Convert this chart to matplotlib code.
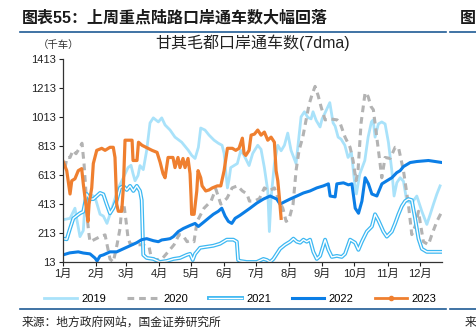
import numpy as np
import matplotlib.pyplot as plt
from matplotlib.lines import Line2D
from matplotlib.legend_handler import HandlerTuple

plt.rcParams['font.family'] = ['Liberation Sans', 'Noto Sans CJK SC', 'DejaVu Sans']

# 甘其毛都口岸通车数(7dma)，横轴为一年中的第几天
month_days = [0, 31, 59, 90, 120, 151, 181, 212, 243, 273, 304, 334]
month_labels = ['1月', '2月', '3月', '4月', '5月', '6月', '7月', '8月', '9月', '10月', '11月', '12月']
y_ticks = [13, 213, 413, 613, 813, 1013, 1213, 1413]

d2019 = [1.9, 6.6, 11.2, 13.1, 15.9, 19, 20.6, 25.3, 30, 34.7, 37.8, 41.2, 44, 47.1, 51.8, 56.5,
         60.9, 63.7, 65.6, 67.5, 70.3, 72.1, 75.2, 78.4, 81.5, 84.6, 89.3, 92.5, 95.6, 100.3, 104.9,
         111.2, 117.4, 120.6, 123.7, 126.8, 129, 133, 136.8, 141.5, 145.5, 149, 150.9, 152.4, 154,
         155.5, 157.1, 163.3, 166.5, 169.6, 174.3, 177.7, 182.4, 185.5, 188.6, 191.8, 193.3, 194.9,
         198, 201.2, 204.3, 207.4, 210.5, 213.6, 218.3, 223, 226.1, 229.3, 232.4, 234.2, 237.1,
         240.8, 242.7, 245.5, 249.9, 253, 254.9, 257.7, 260.5, 264, 267, 270.1, 273.3, 274.8, 278,
         282.7, 285.8, 288.9, 290.5, 292.3, 295.4, 298.6, 301.7, 304.8, 308, 310.1, 312.7, 315.8,
         318.9, 322, 326.7, 331.4, 336.1, 340.8, 343.9, 347, 350.2, 353.2]
v2019 = [307, 314, 384, 300, 188, 230, 412, 482, 460, 342, 330, 279, 342, 412, 524, 594,
         664, 680, 622, 573, 610, 678, 650, 783, 972, 1007, 979, 1007, 958, 923, 874,
         839, 783, 748, 727, 804, 937, 923, 888, 853, 832, 818, 762, 643, 524,
         580, 664, 692, 783, 748, 678, 762, 818, 790, 664, 503, 223, 454,
         692, 818, 780, 818, 902, 783, 692, 1014, 1049, 1010, 1000, 1049, 990,
         944, 1000, 1042, 1112, 972, 950, 874, 860, 818, 734, 770, 552, 482, 620,
         713, 874, 979, 993, 874, 965, 979, 965, 839, 643, 468, 560, 594,
         570, 433, 420, 468, 363, 272, 340, 412, 482, 538]

d2020 = [1.9, 3.7, 6.6, 9.4, 12.2, 15.9, 17.8, 19.7, 21.6, 23, 24.4, 25.3, 30, 34.7, 39.4, 44,
         47.1, 50.6, 53.4, 55.3, 57.2, 59, 60.9, 62.8, 67.5, 74, 80.6, 82.5, 86.2, 92.7, 98.4, 104,
         108.7, 112.4, 116.2, 119, 122.7, 125.6, 132.1, 138.7, 143.1, 147.8, 153.7, 158.4, 163.3,
         168, 172.4, 174.6, 179.2, 184, 188.6, 193, 198, 202.4, 205.9, 209, 211.8, 215.5, 218.3,
         221.1, 224.6, 227.7, 230.5, 233.3, 236.1, 239, 241.7, 245.5, 250.2, 256.8, 259.5, 264.2,
         268.9, 271.7, 274.5, 276.4, 279.2, 283, 285.8, 288.6, 290.7, 293.9, 297, 298.6, 301.7,
         306.4, 311.1, 314.2, 318.9, 323.5, 326.7, 329.8, 333, 334.5, 337.6, 342.3, 345.5, 350.2, 355]
v2020 = [664, 734, 734, 783, 760, 804, 832, 692, 482, 293, 200, 153, 170, 188, 200, 34,
         13, 132, 244, 412, 400, 300, 180, 140, 132, 132, 118, 48, 27, 34, 83, 132,
         202, 195, 153, 160, 153, 293, 384, 433, 517, 412, 454, 524, 538,
         503, 482, 433, 433, 450, 524, 503, 524, 433, 384, 293, 310, 412, 643,
         783, 874, 993, 1100, 1168, 1224, 1160, 1084, 993, 1000, 993, 972, 874,
         804, 713, 573, 650, 972, 1182, 1154, 1084, 1063, 874, 692, 594, 734,
         727, 804, 804, 643, 412, 202, 260, 363, 290, 153, 132, 202, 293, 363]

d2021 = [0, 3.5, 6.6, 9.7, 15.9, 19, 22.2, 25.3, 28.4, 31.6, 34.7, 37.8, 40.9, 44, 47.1, 50.3,
         53.4, 56.5, 59.7, 62.8, 65.9, 69.1, 72.1, 73.7, 75.2, 78.4, 84.6, 90.9, 97.2, 103.4, 109.6,
         115.9, 119, 121.5, 123.7, 128.4, 134.6, 140.8, 147.1, 153.4, 159.6, 162.8, 164, 165.8,
         172.1, 181.5, 187.7, 190.9, 194, 197.1, 200.2, 203.3, 208, 212.7, 215.8, 219, 222.1,
         225.2, 228.3, 231.4, 234.5, 237.7, 240.8, 245.5, 248.6, 251.8, 256.5, 261.1, 264.2,
         268.9, 273.6, 276.7, 279.9, 284.6, 289.3, 292.3, 295.4, 300.1, 303.3, 308, 311.1, 314.2,
         317.4, 320.5, 323.5, 326.7, 329.8, 333, 336.1, 340.8, 355]
v2021 = [174, 170, 244, 314, 349, 360, 482, 447, 447, 468, 489, 480, 412, 349, 384, 440,
         524, 538, 510, 538, 503, 538, 503, 440, 62, 41, 34, 13, 20, 34, 41,
         62, 69, 27, 69, 111, 118, 125, 139, 167, 167, 153, 27, 20,
         13, 13, 34, 27, 13, 34, 69, 104, 132, 153, 174, 153, 146,
         167, 153, 167, 83, 34, 55, 167, 97, 48, 55, 48, 69,
         167, 146, 97, 153, 223, 258, 342, 300, 223, 188, 223, 279, 342,
         398, 433, 447, 440, 314, 174, 104, 83, 83]

d2022 = [0, 6.3, 14.3, 19, 25.3, 30, 31.9, 34.7, 37.8, 44, 50.3, 56.5, 62.8, 69, 73.7, 78.4,
         84.6, 89.3, 92.5, 97.2, 100.3, 103.4, 108, 112.7, 119, 123.7, 126.8, 131.5, 136.1, 140.8,
         145.5, 148.7, 151.8, 154.9, 158.1, 161.2, 165.8, 175.2, 181.5, 187.7, 194, 200.2, 203.3,
         208, 212.7, 219, 225.2, 231.4, 237.7, 243.9, 248.6, 250.2, 254.9, 256.5, 262.7, 267.4,
         270.6, 273.7, 276.8, 280, 283, 286.1, 289.3, 294, 298.7, 303.3, 308, 312.6, 315.8, 318.9,
         325.2, 331.4, 342.3, 355]
v2022 = [62, 76, 83, 75, 69, 40, 20, 55, 62, 83, 83, 104, 125, 146, 167, 174,
         160, 153, 165, 170, 174, 188, 223, 244, 265, 279, 258, 286, 314, 342,
         363, 384, 330, 293, 279, 314, 335, 384, 419, 447, 468, 447, 412,
         430, 447, 468, 489, 503, 524, 538, 552, 468, 462, 552, 559, 545,
         552, 384, 349, 433, 594, 552, 482, 468, 552, 573, 594, 629, 643, 671,
         699, 706, 713, 699]

d2023 = [0, 3.5, 6.6, 8.2, 11.2, 14.3, 17.5, 19, 22.2, 23.4, 24.4, 26.9, 28.4, 31.6, 36.3, 39.4,
         44, 47.1, 48.7, 50.3, 51.8, 55, 56.5, 58.1, 64.7, 65.6, 69.3, 70.7, 74, 79.6, 83.4, 88.1,
         91, 93.7, 95.6, 98.4, 103, 104.9, 107.7, 109.6, 112.4, 114.3, 117.1, 119, 120, 120.5,
         122.8, 125.3, 126.5, 129, 130.3, 133.7, 136.8, 139.9, 144.6, 147.8, 150.9, 154, 158.6,
         161.8, 164.9, 168, 169.6, 171.2, 174.3, 176.2, 179.3, 182.4, 185.5, 188.6, 191.8, 194.9,
         198, 199.6, 201.2, 202.7, 204.3]
v2023 = [708, 643, 482, 573, 587, 643, 657, 552, 363, 293, 412, 524, 692, 783, 797, 783,
         804, 804, 734, 412, 363, 363, 520, 853, 853, 713, 713, 839, 818, 797, 783, 769,
         700, 622, 594, 734, 734, 664, 734, 664, 727, 664, 727, 622, 454, 342,
         342, 503, 643, 594, 538, 503, 510, 524, 538, 538, 643, 797, 797,
         783, 797, 867, 762, 748, 783, 888, 895, 923, 888, 909, 853, 874,
         839, 643, 573, 454, 314]

fig = plt.figure(figsize=(4.76, 3.31), dpi=100)
ax = fig.add_axes([63 / 476, 1 - 262 / 331, 379 / 476, 203 / 331])

l19, = ax.plot(d2019, v2019, color='#a9e2fa', lw=2.0)
l20, = ax.plot(d2020, v2020, color='#b3b3b3', lw=2.2, ls=(0, (2.2, 1.6)))
l21a, = ax.plot(d2021, v2021, color='#3db8f2', lw=2.8)
l21b, = ax.plot(d2021, v2021, color='white', lw=1.0)
l22, = ax.plot(d2022, v2022, color='#0b7ee6', lw=2.2)
l23, = ax.plot(d2023, v2023, color='#ef7f2f', lw=2.3)

ax.set_xlim(0, 355)
ax.set_ylim(13, 1413)
ax.set_xticks(month_days)
ax.set_xticklabels(month_labels)
ax.set_yticks(y_ticks)
ax.tick_params(axis='both', labelsize=8, length=3, width=0.8, colors='#222222', pad=2)
for s in ['top', 'right']:
    ax.spines[s].set_visible(False)
for s in ['left', 'bottom']:
    ax.spines[s].set_color('#333333')
    ax.spines[s].set_linewidth(0.9)

ax.set_title('甘其毛都口岸通车数(7dma)', fontsize=11.5, color='#222222', pad=8)
fig.text(38 / 476, 1 - 45 / 331, '（千车）', fontsize=7.5, color='#333333', va='center')

# 2023 的图例带一个小圆点
h23 = Line2D([], [], color='#ef7f2f', lw=2.0, marker='o', ms=3)
fig.legend([l19, l20, (l21a, l21b), l22, h23], ['2019', '2020', '2021', '2022', '2023'],
           handler_map={tuple: HandlerTuple(ndivide=1)},
           loc='center', bbox_to_anchor=(0.505, 1 - 299 / 331), ncol=5, frameon=False,
           fontsize=8, handlelength=2.9, handletextpad=0.4, columnspacing=1.9)

# 页眉、页脚
fig.text(22 / 476, 1 - 18 / 331, '图表55：上周重点陆路口岸通车数大幅回落', fontsize=11.5,
         fontweight='bold', color='#1a1a1a', va='center')
fig.text(1.0, 1 - 18 / 331, '图', fontsize=11.5, fontweight='bold', color='#1a1a1a',
         va='center', ha='right')
fig.add_artist(Line2D([20 / 476, 446 / 476], [1 - 32 / 331] * 2, color='#1f5b95', lw=1.2))
fig.add_artist(Line2D([450 / 476, 1], [1 - 32 / 331] * 2, color='#1f5b95', lw=1.2))
fig.add_artist(Line2D([20 / 476, 446 / 476], [1 - 309 / 331] * 2, color='#1f5b95', lw=1.2))
fig.add_artist(Line2D([450 / 476, 1], [1 - 309 / 331] * 2, color='#1f5b95', lw=1.2))
fig.text(22 / 476, 1 - 323 / 331, '来源：地方政府网站，国金证券研究所', fontsize=8.5, color='#222222', va='center')
fig.text(1.0, 1 - 323 / 331, '来', fontsize=8.5, color='#222222', va='center', ha='right')

fig.savefig('out.png', dpi=100)
